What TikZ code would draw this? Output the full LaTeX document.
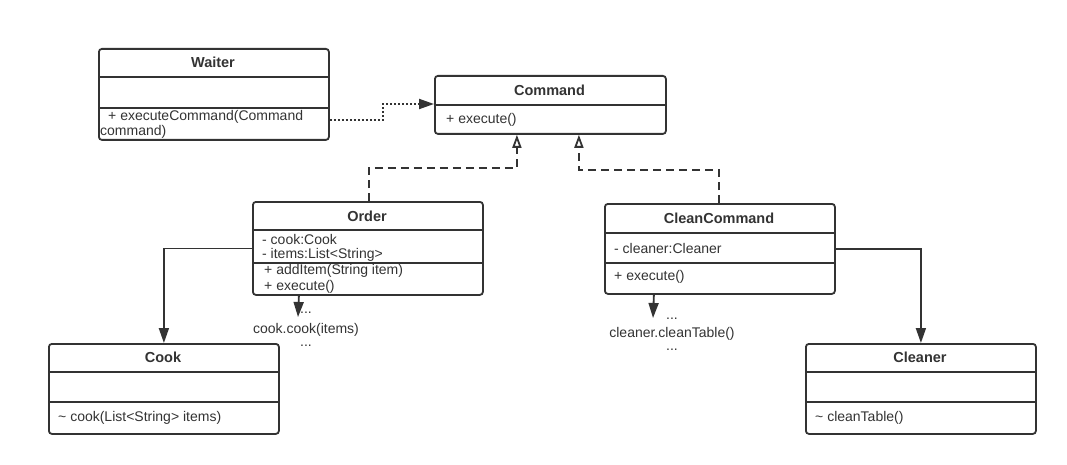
\documentclass[tikz,border=0pt]{standalone}
\usepackage{fontspec}
\setmainfont{Liberation Sans}
\usetikzlibrary{arrows.meta}
\definecolor{ink}{HTML}{333333}
\tikzset{
  x=1pt, y=1pt,
  classbox/.style={draw=ink, line width=1.8pt, rounded corners=3pt, anchor=north west, inner sep=0pt, fill=white},
  divider/.style={draw=ink, line width=1.8pt},
  title/.style={font=\fontsize{14.5}{16}\selectfont\bfseries, text=ink, inner sep=0pt},
  member/.style={font=\fontsize{14}{16}\selectfont, text=ink, anchor=west, inner sep=0pt},
  assoc/.style={draw=ink, line width=1.8pt, -{Triangle[length=15pt,width=10pt]}},
  realize/.style={draw=ink, line width=1.8pt, dash pattern=on 8pt off 5pt, -{Triangle[open,length=13pt,width=9pt,fill=white]}},
  depend/.style={draw=ink, line width=2pt, dash pattern=on 2pt off 2pt, -{Triangle[length=15pt,width=10pt]}},
  note/.style={font=\fontsize{14}{16}\selectfont, text=ink, align=center, inner sep=0pt},
}
\begin{document}
\begin{tikzpicture}
\useasboundingbox (0,0) rectangle (1067,-465);
\fill[white] (0,0) rectangle (1067,-465);

% Waiter
\node[classbox, minimum width=230pt, minimum height=91pt] (waiter) at (98,-48) {};
\draw[divider] (98,-77) -- (328,-77);
\draw[divider] (98,-108) -- (328,-108);
\node[title] (waitert) at (213,-62.5) {Waiter};
\node[member] (waiterm1) at (108,-117) {+ executeCommand(Command};
\node[member] (waiterm2) at (100,-132) {command)};

% Command
\node[classbox, minimum width=231pt, minimum height=58pt] (command) at (434,-75) {};
\draw[divider] (434,-105) -- (665,-105);
\node[title] (commandt) at (549.5,-90) {Command};
\node[member] (commandm) at (446,-120) {+ execute()};

% Order
\node[classbox, minimum width=230pt, minimum height=93pt] (order) at (252,-201) {};
\draw[divider] (252,-230) -- (482,-230);
\node[title] (ordert) at (367,-216) {Order};
\draw[divider] (252,-263) -- (482,-263);
\node[member] (ordera1) at (262,-239) {- cook:Cook};
\node[member] (ordera2) at (262,-255) {- items:List<String>};
\node[member] (orderm1) at (264,-271) {+ addItem(String item)};
\node[member] (orderm2) at (264,-287) {+ execute()};

% CleanCommand
\node[classbox, minimum width=230pt, minimum height=90pt] (clean) at (604,-203) {};
\draw[divider] (604,-233) -- (834,-233);
\draw[divider] (604,-263) -- (834,-263);
\node[title] (cleant) at (719,-218) {CleanCommand};
\node[member] (cleana) at (614,-248) {- cleaner:Cleaner};
\node[member] (cleanm) at (614,-277) {+ execute()};

% Cook
\node[classbox, minimum width=230pt, minimum height=90pt] (cook) at (48,-343) {};
\draw[divider] (48,-372) -- (278,-372);
\draw[divider] (48,-402) -- (278,-402);
\node[title] (cookt) at (163,-357.5) {Cook};
\node[member] (cookm) at (58,-418) {\textasciitilde{} cook(List<String> items)};

% Cleaner
\node[classbox, minimum width=230pt, minimum height=90pt] (cleaner) at (805,-343) {};
\draw[divider] (805,-372) -- (1035,-372);
\draw[divider] (805,-402) -- (1035,-402);
\node[title] (cleanert) at (920,-357.5) {Cleaner};
\node[member] (cleanerm) at (815,-418) {\textasciitilde{} cleanTable()};

% Notes
\node[note] (n1a) at (306,-313) {...};
\node[note] (n1b) at (306,-330) {cook.cook(items)};
\node[note] (n1c) at (306,-346) {...};
\node[note] (n2a) at (672,-319) {...};
\node[note] (n2b) at (672,-334) {cleaner.cleanTable()};
\node[note] (n2c) at (672,-350) {...};
\coordinate (n1tip) at (298,-317);
\coordinate (n2tip) at (653,-318);

% Connectors
\draw[depend] ([yshift=21pt]waiter.south east) -- ++(53,0) |- ([yshift=-29pt]command.north west);
\draw[realize] ([xshift=1pt]order.north) |- ++(0,33) -| ([xshift=-33.5pt]command.south);
\draw[realize] ([xshift=-1pt]clean.north) |- ++(0,33) -| ([xshift=28.5pt]command.south);
\draw[assoc] (order.west) -| (cook.north);
\draw[assoc] (clean.east) -| (cleaner.north);
\draw[assoc] ([xshift=-69pt]order.south) -- (n1tip);
\draw[assoc] ([xshift=-66pt]clean.south) -- (n2tip);
\end{tikzpicture}
\end{document}
